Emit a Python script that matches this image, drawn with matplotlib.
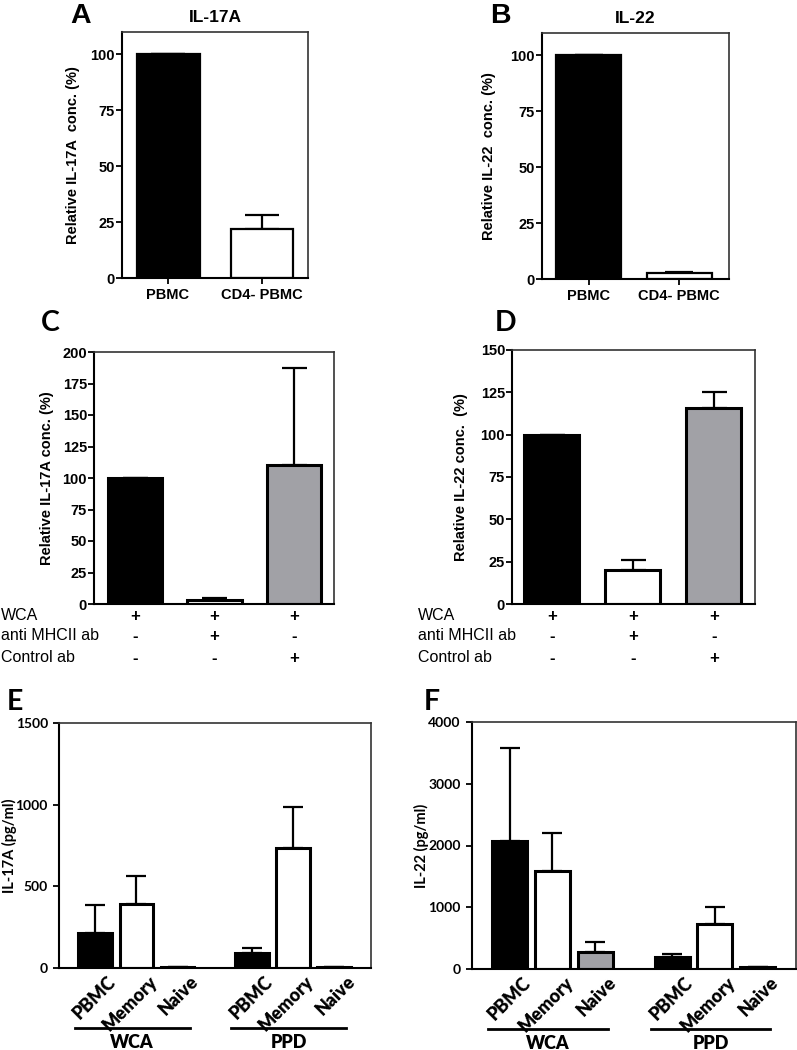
import numpy as np
import matplotlib
matplotlib.use("Agg")
import matplotlib.pyplot as plt
import matplotlib.transforms as mtransforms

plt.rcParams['font.family'] = ['Liberation Sans', 'DejaVu Sans']

# ---- data ----
ab_cats = ["PBMC", "CD4- PBMC"]
a_vals = [100, 22]
a_err = [0, 28]
b_vals = [100, 2.5]
b_err = [0, 3.2]

cd_rows = ["WCA", "anti MHCII ab", "Control ab"]
cd_signs = [["+", "+", "+"],
            ["-", "+", "-"],
            ["-", "-", "+"]]
c_vals = [100, 3, 110]
c_err = [0, 4.5, 187]
d_vals = [100, 20, 116]
d_err = [0, 26, 125]

ef_cells = ["PBMC", "Memory", "Naive"]
ef_groups = ["WCA", "PPD"]
e_vals = [215, 390, 5, 90, 735, 5]
e_err = [385, 565, 5, 125, 985, 5]
f_vals = [2070, 1590, 280, 190, 735, 25]
f_err = [3580, 2210, 445, 250, 1005, 25]

W, H = 797, 1050
BLACK, WHITE, GRAY = "#000000", "#ffffff", "#a1a1a6"

fig = plt.figure(figsize=(W / 100, H / 100), dpi=100)


def px_axes(l, t, r, b):
    return fig.add_axes([l / W, 1 - b / H, (r - l) / W, (b - t) / H])


def style(ax, font, size, xticks=True, ypad=1):
    for s in ax.spines.values():
        s.set_color("#333333")
        s.set_linewidth(1.2)
    ax.spines["left"].set_color("black")
    ax.spines["bottom"].set_color("black")
    ax.spines["left"].set_linewidth(1.5)
    ax.spines["bottom"].set_linewidth(1.5)
    ax.tick_params(axis="y", direction="out", length=4, width=1.3, pad=ypad)
    ax.tick_params(axis="x", direction="out", length=4 if xticks else 0, width=1.3)
    for t in ax.get_yticklabels() + ax.get_xticklabels():
        t.set_family(font)
        t.set_weight("bold")
        t.set_fontsize(size)


def label_at(ax, text, x_right_px, size, font):
    # y label with its right edge at x_right_px (figure pixels)
    pos = ax.get_position()
    ax.set_ylabel(text, fontsize=size, fontweight="bold", family=font)
    ax.yaxis.set_label_coords((x_right_px / W - pos.x0) / pos.width, 0.5)


def bars(ax, x, vals, errs, colors, width, lw, cap):
    up = [max(e - v, 0) for v, e in zip(vals, errs)]
    ax.errorbar(x, vals, yerr=[np.zeros(len(vals)), up], fmt="none",
                ecolor="black", elinewidth=1.6, capsize=cap, capthick=1.6, zorder=1)
    ax.bar(x, vals, width=width, color=colors, edgecolor="black", linewidth=lw, zorder=2)


# ---- A ----
axA = px_axes(122, 32, 308, 278)
xa = np.arange(2)
bars(axA, xa, a_vals, a_err, [BLACK, WHITE], 0.67, 1.6, 12)
axA.set_xlim(-0.49, 1.49)
axA.set_ylim(0, 110)
axA.set_yticks([0, 25, 50, 75, 100])
axA.set_xticks(xa)
axA.set_xticklabels(ab_cats)
axA.set_title("IL-17A", fontsize=12.5, fontweight="bold", pad=7)
label_at(axA, "Relative IL-17A  conc. (%)", 80, 10.5, "Liberation Sans")
style(axA, "Liberation Sans", 10.5)

# ---- B ----
axB = px_axes(542, 33, 729, 279)
bars(axB, xa, b_vals, b_err, [BLACK, WHITE], 0.72, 1.6, 10)
axB.set_xlim(-0.52, 1.55)
axB.set_ylim(0, 110)
axB.set_yticks([0, 25, 50, 75, 100])
axB.set_xticks(xa)
axB.set_xticklabels(ab_cats)
axB.set_title("IL-22", fontsize=12.5, fontweight="bold", pad=7)
label_at(axB, "Relative IL-22  conc. (%)", 496, 10.5, "Liberation Sans")
style(axB, "Liberation Sans", 10.5)

# ---- C / D ----
xc = np.arange(3)


def sign_table(ax, label_x):
    tr = mtransforms.blended_transform_factory(ax.transData, fig.transFigure)
    for r, (name, row_y) in enumerate(zip(cd_rows, [616, 636, 658])):
        fig.text(label_x / W, 1 - row_y / H, name, fontsize=11.5, va="center", ha="left")
        for i, s in enumerate(cd_signs[r]):
            ax.text(xc[i], 1 - row_y / H, s, transform=tr, fontsize=12,
                    fontweight="bold", ha="center", va="center")


axC = px_axes(94, 352, 334, 604)
bars(axC, xc, c_vals, c_err, [BLACK, WHITE, GRAY], 0.68, 2.2, 9)
axC.set_xlim(-0.51, 2.5)
axC.set_ylim(0, 200)
axC.set_yticks(np.arange(0, 201, 25))
axC.set_xticks([])
label_at(axC, "Relative IL-17A conc. (%)", 54, 10.5, "Liberation Sans")
style(axC, "Liberation Sans", 10.5, xticks=False)
sign_table(axC, 1)

axD = px_axes(512, 350, 755, 604)
bars(axD, xc, d_vals, d_err, [BLACK, WHITE, GRAY], 0.68, 2.2, 9)
axD.set_xlim(-0.49, 2.51)
axD.set_ylim(0, 150)
axD.set_yticks(np.arange(0, 151, 25))
axD.set_xticks([])
label_at(axD, "Relative IL-22 conc.  (%)", 468, 10.5, "Liberation Sans")
style(axD, "Liberation Sans", 10.5, xticks=False)
sign_table(axD, 418)

# ---- E / F ----
xe = np.concatenate([np.arange(3), np.arange(3) + 3.8])
ef_colors_e = [BLACK, WHITE, WHITE, BLACK, WHITE, WHITE]
ef_colors_f = [BLACK, WHITE, GRAY, BLACK, WHITE, WHITE]


def group_panel(ax, vals, errs, colors, ymax, ylabel, label_x):
    bars(ax, xe, vals, errs, colors, 0.82, 2.2, 7)
    ax.set_xlim(-0.88, 6.7)
    ax.set_ylim(0, ymax)
    ax.set_yticks(np.linspace(0, ymax, 4 if ymax == 1500 else 5))
    ax.set_xticks(xe)
    ax.set_xticklabels(ef_cells * 2)
    label_at(ax, ylabel, label_x, 10.5, "Lato")
    style(ax, "Lato", 10, xticks=False, ypad=4)
    off = mtransforms.ScaledTranslation(12 / 100, 0, fig.dpi_scale_trans)
    for t in ax.get_xticklabels():
        t.set_rotation(45)
        t.set_ha("right")
        t.set_va("top")
        t.set_rotation_mode("anchor")
        t.set_fontsize(13)
        t.set_weight("heavy")
        t.set_transform(t.get_transform() + off)
    tr = ax.get_xaxis_transform()
    bh = ax.get_position().height * H
    for g, name in enumerate(ef_groups):
        x0 = xe[3 * g]
        ax.plot([x0 - 0.5, x0 + 2.3], [-60 / bh, -60 / bh], color="black", lw=2,
                transform=tr, clip_on=False)
        ax.text(x0 + 0.9, -66 / bh, name, transform=tr, ha="center", va="top",
                fontsize=13, fontweight="heavy", family="Lato")


axE = px_axes(59, 723, 371, 968)
group_panel(axE, e_vals, e_err, ef_colors_e, 1500, "IL-17A (pg/ml)", 17)

axF = px_axes(472, 722, 796, 969)
group_panel(axF, f_vals, f_err, ef_colors_f, 4000, "IL-22 (pg/ml)", 429)

# ---- panel letters ----
for letter, x, y, fam in [("A", 70, 23, "Liberation Sans"), ("B", 490, 23, "Liberation Sans"),
                          ("C", 41, 331, "Lato"), ("D", 495, 331, "Lato"),
                          ("E", 7, 710, "Lato"), ("F", 424, 710, "Lato")]:
    fig.text(x / W, 1 - y / H, letter, fontsize=20.5, fontweight="bold", family=fam,
             ha="left", va="baseline")

fig.savefig("out.png", dpi=100)
